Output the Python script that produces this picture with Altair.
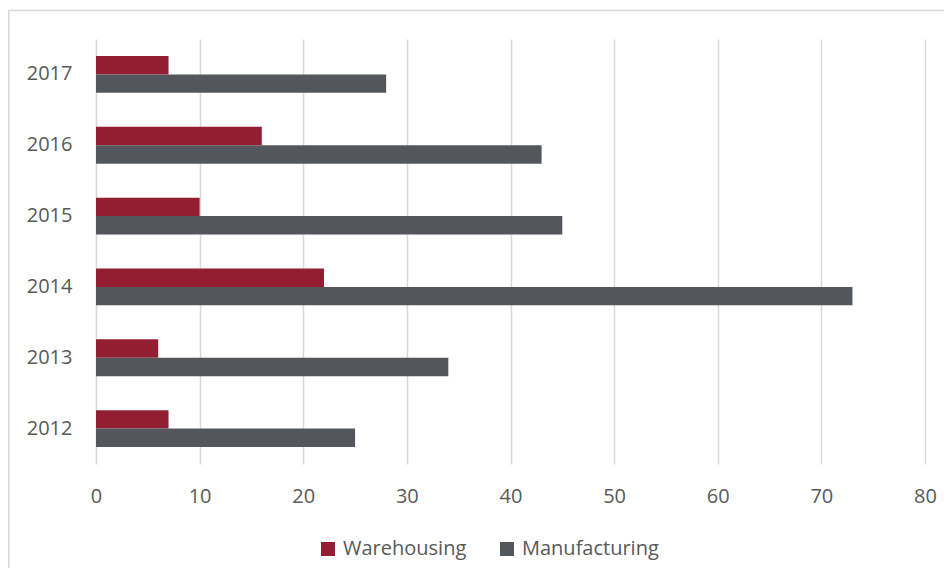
import altair as alt
import pandas as pd

years = ["2012", "2013", "2014", "2015", "2016", "2017"]
warehousing = [7, 6, 22, 10, 16, 7]
manufacturing = [25, 34, 73, 45, 43, 28]
series = ["Warehousing", "Manufacturing"]
colors = ["#931E32", "#53565A"]
x_ticks = [0, 10, 20, 30, 40, 50, 60, 70, 80]

rows = []
for i, y in enumerate(years):
    rows.append({"year": y, "series": series[0], "value": warehousing[i]})
    rows.append({"year": y, "series": series[1], "value": manufacturing[i]})
df = pd.DataFrame(rows)

FONT = "Open Sans"
TXT = "#595959"

frame = alt.Chart(pd.DataFrame({"a": [0]})).mark_rect(
    fill=None, stroke="#D9D9D9", strokeWidth=1.5
).encode(
    x=alt.value(-87.2), x2=alt.value(900),
    y=alt.value(-28.5), y2=alt.value(600),
)

bars = alt.Chart(df).mark_bar().encode(
    x=alt.X("value:Q",
            scale=alt.Scale(domain=[0, 80], nice=False),
            axis=alt.Axis(values=x_ticks, title=None, grid=True, gridColor="#D9D9D9",
                          gridWidth=1.5, domain=False, ticks=False, labelPadding=22,
                          labelFlush=False,
                          labelFont=FONT, labelFontSize=20, labelColor=TXT)),
    y=alt.Y("year:N", sort=years[::-1],
            scale=alt.Scale(paddingInner=0.48, paddingOuter=0.24),
            axis=alt.Axis(title=None, domain=False, ticks=False, labelPadding=24,
                          labelFont=FONT, labelFontSize=20, labelColor=TXT)),
    yOffset=alt.YOffset("series:N", sort=series,
                        scale=alt.Scale(paddingInner=0, paddingOuter=0)),
    color=alt.Color("series:N", sort=series,
                    scale=alt.Scale(domain=series, range=colors),
                    legend=alt.Legend(title=None, orient="none", direction="horizontal",
                                      legendX=222, legendY=500,
                                      symbolType="square", symbolSize=196,
                                      symbolStrokeWidth=0, labelOffset=5,
                                      columnPadding=30,
                                      labelFont=FONT, labelFontSize=20, labelColor=TXT)),
)

chart = alt.layer(frame, bars).properties(
    width=829, height=425,
    autosize=alt.AutoSizeParams(type="none"),
    padding={"left": 88, "top": 31, "right": 19, "bottom": 104},
    background="white",
).configure_view(stroke=None)

chart.save("out.html", embed_options={"renderer": "svg", "actions": False})
